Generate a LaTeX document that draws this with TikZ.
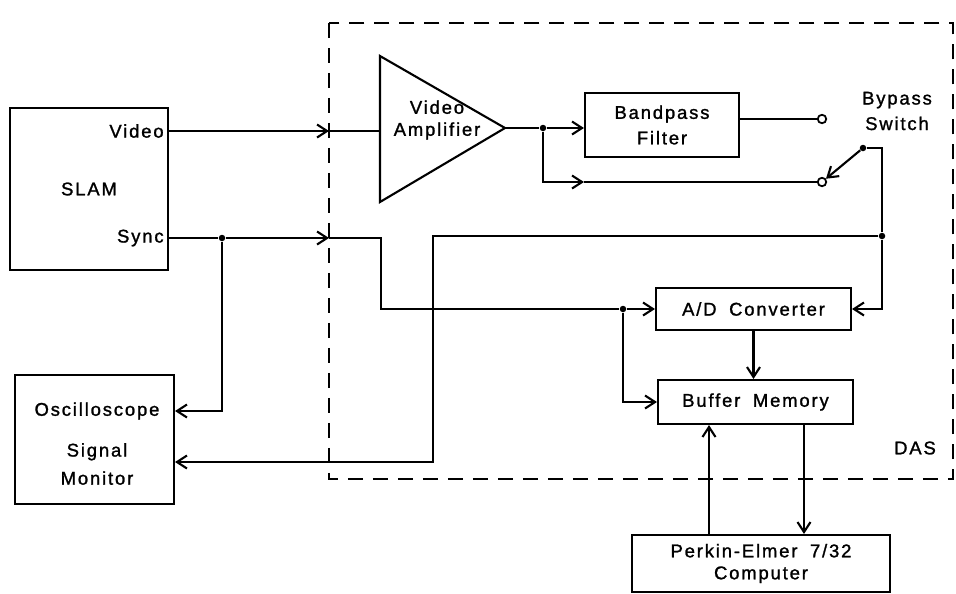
\documentclass[tikz,border=0pt]{standalone}
\usepackage{fontspec}
\setmainfont{Liberation Sans}[LetterSpace=10, WordSpace=1.8, FakeBold=1.3]
\usetikzlibrary{positioning, arrows.meta, calc}

\begin{document}
\begin{tikzpicture}[
        x=0.02cm, y=-0.02cm,
        font=\fontsize{10.5}{12.5}\selectfont,
        block/.style={draw, rectangle, line width=1.2pt, align=center, inner sep=0pt},
        lbl/.style={inner sep=0pt, align=center},
        dot/.style={circle, fill, inner sep=0pt, minimum size=0.13cm},
        port/.style={circle, draw, fill=white, line width=1pt, inner sep=0pt, minimum size=0.17cm},
        wire/.style={line width=1.2pt},
        arrow/.style={-{Straight Barb[length=2mm, width=2.6mm]}, line width=1.2pt},
        boundary/.style={draw, dash pattern=on 0.3cm off 0.2cm, line width=1.2pt}
    ]

    \useasboundingbox (0,0) rectangle (956,593);

    \coordinate (DasNW) at (329,23);
    \coordinate (DasSE) at (953,479);
    \draw[boundary] (DasNW) rectangle (DasSE);
    \node[lbl] (DAS) at (915,448) {DAS};

    \node[block, minimum width=3.16cm, minimum height=3.24cm] (SLAM) at (89,189) {SLAM};
    \node[lbl, anchor=east] (Video) at (164,131) {Video};
    \node[lbl, anchor=east] (Sync) at (164,238) {Sync};

    \node[block, minimum width=3.18cm, minimum height=2.58cm] (Scope) at (94.5,439.5) {};
    \node[lbl] (ScopeText) at (97,411) {Oscilloscope};
    \node[lbl] (MonText) at (97,464) {Signal\\[3.5pt]Monitor};

    \coordinate (AmpTop) at (380,56);
    \coordinate (AmpBot) at (380,202);
    \coordinate (AmpTip) at (505,128);
    \draw[wire] (AmpTop) -- (AmpTip) -- (AmpBot) -- cycle;
    \node[lbl] (Amp) at (437,120) {Video\\Amplifier};

    \node[block, minimum width=3.08cm, minimum height=1.28cm] (Filter) at (662,125) {Bandpass\\[2pt]Filter};
    \node[port] (PortA) at (822,119) {};
    \node[port] (PortB) at (822,182) {};
    \node[dot] (Pivot) at (863,148) {};
    \node[lbl] (Bypass) at (897,111) {Bypass\\[2pt]Switch};

    \node[block, minimum width=3.9cm, minimum height=0.84cm] (ADC) at (753.5,309) {A/D Converter};
    \node[block, minimum width=3.9cm, minimum height=0.88cm] (Buffer) at (755.5,402) {Buffer Memory};
    \node[block, minimum width=5.16cm, minimum height=1.14cm] (Computer) at (761,563.5) {Perkin-Elmer 7/32\\Computer};

    \coordinate (VideoIn) at (DasNW |- Video);
    \draw[arrow] (SLAM.east |- Video) -- (VideoIn);
    \draw[wire] (VideoIn) -- (VideoIn -| AmpTop);

    \node[dot] (Split) at (543,128) {};
    \draw[wire] (AmpTip) -- (Split);
    \draw[arrow] (Split) -- (Split -| Filter.west);
    \coordinate (BypassMid) at (Filter.west |- PortB);
    \draw[arrow] (Split) |- (BypassMid);
    \draw[wire] (BypassMid) -- (PortB);
    \draw[wire] (Filter.east |- PortA) -- (PortA);

    \coordinate (SwitchCorner) at (882,148);
    \node[dot] (Tap) at (882,236) {};
    \draw[arrow] (Pivot) -- (PortB);
    \draw[wire] (Pivot) -- (SwitchCorner) -- (Tap);
    \draw[arrow] (Tap) |- (ADC.east);

    \coordinate (MonTop) at (433,236);
    \coordinate (MonDrop) at (433,462);
    \draw[arrow] (Tap) -- (MonTop) -- (MonDrop) -- (MonDrop -| Scope.east);

    \node[dot] (SyncTap) at (222,238) {};
    \coordinate (SyncIn) at (DasNW |- Sync);
    \coordinate (SyncBend) at (381,238);
    \node[dot] (ClockTap) at (623,309) {};
    \draw[wire] (SLAM.east |- Sync) -- (SyncTap);
    \draw[arrow] (SyncTap) -- (SyncIn);
    \draw[wire] (SyncIn) -- (SyncBend) |- (ClockTap);
    \draw[arrow] (ClockTap) -- (ADC.west |- ClockTap);
    \draw[arrow] (ClockTap) |- (Buffer.west);
    \draw[arrow] (SyncTap) |- (Scope.east |- ScopeText);

    \draw[arrow] (ADC.south) -- (ADC.south |- Buffer.north);

    \coordinate (UpLink) at (709,0);
    \coordinate (DownLink) at (804,0);
    \draw[arrow] (UpLink |- Computer.north) -- (UpLink |- Buffer.south);
    \draw[arrow] (DownLink |- Buffer.south) -- (DownLink |- Computer.north);

\end{tikzpicture}
\end{document}
